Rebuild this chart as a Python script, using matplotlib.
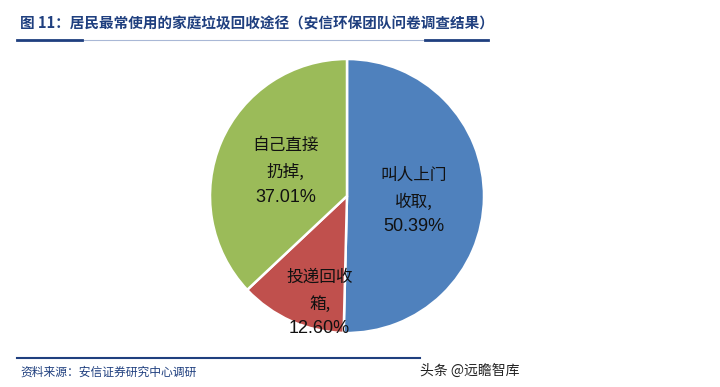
import matplotlib.pyplot as plt
from matplotlib.lines import Line2D

plt.rcParams['font.family'] = ['Noto Sans CJK SC', 'DejaVu Sans']

# 数据
names_1 = ['叫人上门', '投递回收', '自己直接']
names_2 = ['收取,', '箱,', '扔掉,']
values = [50.39, 12.60, 37.01]
colors = ['#4F81BD', '#C0504D', '#9BBB59']
# 标签中间行位置（饼图坐标，半径=1）
label_pos = [(0.49, -0.045), (-0.2, -0.79), (-0.45, 0.17)]

title = '图 11：居民最常使用的家庭垃圾回收途径（安信环保团队问卷调查结果）'
source = '资料来源：安信证券研究中心调研'
navy = '#1F3F7F'

W, H = 720, 387
fig = plt.figure(figsize=(7.2, 3.87), dpi=100)

# 饼图：中心 (347,196) 像素，半径 137
cx, cy, r = 347, 196, 137
ax = fig.add_axes([(cx - r) / W, (H - cy - r) / H, 2 * r / W, 2 * r / H])
ax.pie(values, colors=colors, startangle=90, counterclock=False,
       wedgeprops=dict(edgecolor='white', linewidth=1.8))
ax.set_xlim(-1, 1)
ax.set_ylim(-1, 1)
ax.axis('off')

for n1, n2, v, (x, y) in zip(names_1, names_2, values, label_pos):
    ax.text(x, y + 0.197, n1, ha='center', va='center', fontsize=12,
            color='#111111')
    ax.text(x, y, n2, ha='center', va='center', fontsize=12, color='#111111')
    ax.text(x, y - 0.18, f'{v:.2f}%', ha='center', va='center', fontsize=13,
            family='Liberation Sans', color='#111111')

# 标题
fig.text(20 / W, 1 - 23 / H, title, fontsize=10.5, fontweight='bold',
         color=navy, ha='left', va='center')

# 标题下划线
y1 = 1 - 40 / H
fig.add_artist(Line2D([17 / W, 488 / W], [y1, y1], color='#A9B8D6', lw=0.8))
fig.add_artist(Line2D([17 / W, 82 / W], [y1, y1], color=navy, lw=2))
fig.add_artist(Line2D([425 / W, 488 / W], [y1, y1], color=navy, lw=2))

# 来源线和文字
y2 = 1 - 358 / H
fig.add_artist(Line2D([17 / W, 420 / W], [y2, y2], color=navy, lw=1.5))
fig.text(20 / W, 1 - 372 / H, source, fontsize=8.5, color=navy,
         ha='left', va='center', style='italic')

# 水印
fig.text(420 / W, 1 - 371 / H, '头条 @远瞻智库', fontsize=10, color='#222222',
         ha='left', va='center')

fig.savefig('out.png', dpi=100)
